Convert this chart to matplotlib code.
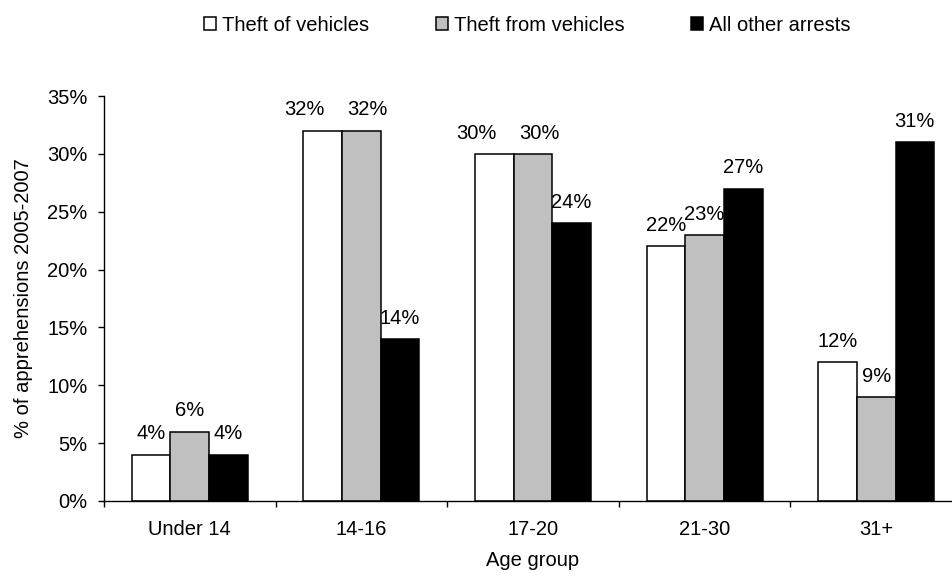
import numpy as np
import matplotlib
matplotlib.use("Agg")
from matplotlib import pyplot as plt

plt.rcParams['font.family'] = ['Liberation Sans', 'DejaVu Sans']
plt.rcParams['font.size'] = 14.5

groups = ['Under 14', '14-16', '17-20', '21-30', '31+']
series = ['Theft of vehicles', 'Theft from vehicles', 'All other arrests']
theft_of = [4, 32, 30, 22, 12]
theft_from = [6, 32, 30, 23, 9]
other = [4, 14, 24, 27, 31]
yticks = [0, 5, 10, 15, 20, 25, 30, 35]

values = [theft_of, theft_from, other]
colors = ['white', '#C0C0C0', 'black']

fig = plt.figure(figsize=(9.52, 5.82), dpi=100)
# axes run a little past the right edge, like the original
ax = fig.add_axes([104 / 952, 81 / 582, 858 / 952, 405 / 582])

x = np.arange(len(groups)) + 0.5
w = 0.225
for i, (vals, c, name) in enumerate(zip(values, colors, series)):
    pos = x + (i - 1) * w
    ax.bar(pos, vals, w, color=c, edgecolor='black', linewidth=1.1, label=name)
    for j, (p, v) in enumerate(zip(pos, vals)):
        dx = 0
        # Excel pushes apart labels that sit at the same height
        if theft_of[j] == theft_from[j] and i == 0:
            dx = -13
        elif theft_of[j] == theft_from[j] and i == 1:
            dx = 4.5
        ax.annotate('%d%%' % v, (p, v), xytext=(dx, 11), textcoords='offset points',
                    ha='center', va='baseline')

ax.set_xlim(0, len(groups))
ax.set_ylim(0, 35)
ax.set_yticks(yticks)
ax.set_yticklabels(['%d%%' % t for t in yticks])
ax.set_xticks(x)
ax.set_xticklabels(groups)
ax.set_xticks(np.arange(len(groups) + 1), minor=True)
ax.tick_params(axis='x', which='major', length=0, pad=14)
ax.tick_params(axis='x', which='minor', length=4.5, width=1, direction='out')
ax.tick_params(axis='y', length=4.5, width=1, direction='out', pad=7.5)

for s in ['top', 'right']:
    ax.spines[s].set_visible(False)
for s in ['left', 'bottom']:
    ax.spines[s].set_linewidth(1.0)

ax.set_xlabel('Age group')
ax.xaxis.set_label_coords(0.5, -0.1457)
ax.xaxis.label.set_va('center')
ax.set_ylabel('% of apprehensions 2005-2007')
ax.yaxis.set_label_coords(-0.0944, 0.5)
ax.yaxis.label.set_va('center')

fig.legend(loc='center', bbox_to_anchor=(0.554, 0.957), bbox_transform=fig.transFigure,
           ncol=3, frameon=False, handlelength=0.6, handleheight=0.6,
           handletextpad=0.3, columnspacing=3.3)

fig.savefig('out.png', dpi=100)
